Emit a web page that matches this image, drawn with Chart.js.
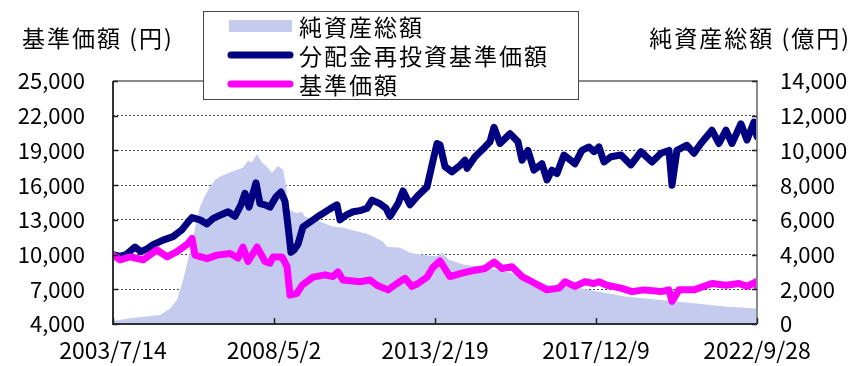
<!DOCTYPE html>
<html lang="ja">
<head>
<meta charset="utf-8">
<title>基準価額・純資産総額の推移</title>
<script src="https://cdn.jsdelivr.net/npm/chart.js@4.4.1/dist/chart.umd.min.js"></script>
<style>
  html, body { margin: 0; padding: 0; background: #fff; }
  #myChart { display: block; }
</style>
</head>
<body>
<canvas id="myChart" width="868" height="366"></canvas>
<script>
const tickLabels = ["2003/7/14", "2008/5/2", "2013/2/19", "2017/12/9", "2022/9/28"];

// days since 2003/7/14
const assetDays = [0, 185, 512, 621, 697, 763, 817, 861, 904, 948, 1002, 1057, 1111, 1166, 1242, 1307, 1362, 1416, 1471, 1514, 1569, 1623, 1689, 1732, 1798, 1852, 1885, 1917, 1994, 2059, 2092, 2255, 2397, 2506, 2767, 2941, 2985, 3127, 3236, 3421, 3530, 3584, 3660, 3835, 4020, 4205, 4379, 4565, 4750, 4924, 5109, 5294, 5600, 5970, 6329, 6689, 7016];
const assetValues = [170, 330, 520, 900, 1380, 2500, 3700, 4650, 5800, 6750, 7400, 7900, 8300, 8500, 8650, 8800, 8900, 9000, 9400, 9300, 9800, 9300, 9000, 8700, 9100, 8900, 8000, 6600, 6400, 6450, 6200, 5900, 5600, 5550, 5200, 4750, 4450, 4400, 4100, 3950, 3900, 4100, 3700, 3400, 3300, 3100, 2900, 2550, 2250, 2150, 2050, 1860, 1570, 1380, 1190, 1000, 900];

const reinvestDays = [0, 76, 142, 240, 305, 370, 436, 545, 654, 752, 817, 861, 948, 1024, 1089, 1166, 1253, 1329, 1394, 1438, 1482, 1514, 1558, 1601, 1656, 1710, 1776, 1830, 1874, 1906, 1939, 1972, 2015, 2070, 2146, 2255, 2364, 2440, 2473, 2538, 2615, 2691, 2767, 2822, 2909, 2974, 3018, 3105, 3159, 3236, 3323, 3421, 3486, 3530, 3562, 3617, 3693, 3780, 3835, 3857, 3944, 4053, 4107, 4151, 4216, 4325, 4412, 4456, 4521, 4586, 4673, 4728, 4782, 4837, 4913, 5033, 5109, 5186, 5240, 5294, 5349, 5425, 5534, 5643, 5752, 5872, 5970, 6057, 6090, 6144, 6253, 6329, 6405, 6525, 6602, 6678, 6743, 6841, 6907, 6983, 7016];
const reinvestValues = [10000, 9850, 10000, 10650, 10250, 10500, 10850, 11250, 11550, 12150, 12800, 13200, 13000, 12650, 13100, 13400, 13700, 13300, 14300, 15300, 14100, 15000, 16200, 14400, 14300, 14100, 15000, 15400, 14600, 12500, 10200, 10400, 10900, 12400, 12800, 13400, 13950, 14300, 13000, 13400, 13700, 13800, 14000, 14700, 14400, 14000, 13300, 14400, 15500, 14300, 15100, 15850, 18100, 19600, 19500, 17600, 17150, 17700, 18150, 17450, 18450, 19300, 19750, 21000, 19600, 20450, 19750, 18150, 19000, 17300, 17850, 16450, 17300, 17000, 18600, 17850, 19000, 19300, 18900, 19300, 18000, 18450, 18600, 17750, 18900, 18000, 18750, 19000, 16000, 19000, 19450, 18750, 19600, 20750, 19600, 20750, 19600, 21300, 19900, 21450, 20200];

const priceDays = [0, 76, 185, 327, 479, 588, 697, 817, 861, 893, 1024, 1133, 1275, 1362, 1416, 1471, 1569, 1656, 1710, 1743, 1841, 1896, 1928, 2004, 2059, 2179, 2310, 2397, 2451, 2506, 2691, 2800, 2876, 2996, 3094, 3181, 3257, 3323, 3421, 3486, 3562, 3671, 3802, 3944, 4053, 4151, 4238, 4347, 4456, 4565, 4728, 4859, 4924, 5033, 5142, 5240, 5294, 5382, 5534, 5654, 5785, 5970, 6057, 6090, 6166, 6329, 6525, 6678, 6820, 6907, 7005, 7016];
const priceValues = [9950, 9550, 9800, 9550, 10400, 9800, 10250, 10950, 11400, 9950, 9650, 9950, 10100, 9700, 10650, 9400, 10650, 9400, 9250, 9800, 9800, 8950, 6500, 6650, 7350, 8050, 8250, 8100, 8500, 7800, 7650, 7800, 7350, 6950, 7500, 7950, 7250, 7500, 8050, 8900, 9450, 8100, 8400, 8650, 8800, 9350, 8800, 8950, 8100, 7650, 6950, 7100, 7650, 7250, 7650, 7500, 7650, 7350, 7100, 6800, 6950, 6800, 6950, 5950, 6950, 6950, 7500, 7350, 7500, 7250, 7650, 7250];

const seriesNames = ["純資産総額", "分配金再投資基準価額", "基準価額"];
const leftTitle = "基準価額 (円)";
const rightTitle = "純資産総額 (億円)";

const jpFont = "'Noto Sans CJK JP', 'Noto Sans', sans-serif";
const dayMs = 24 * 60 * 60 * 1000;

function dayOffset(label) {
  const [y, m, d] = label.split("/").map(Number);
  const [y0, m0, d0] = tickLabels[0].split("/").map(Number);
  return Math.round((Date.UTC(y, m - 1, d) - Date.UTC(y0, m0 - 1, d0)) / dayMs);
}

function toPoints(days, values) {
  return days.map((d, i) => ({ x: d, y: values[i] }));
}

const tickPositions = tickLabels.map(dayOffset);

const overlay = {
  id: "overlay",
  afterDraw(chart) {
    const { ctx, chartArea: a, scales } = chart;
    ctx.save();

    // plot frame
    ctx.lineWidth = 2;
    ctx.strokeStyle = "#8a8a8a";
    ctx.beginPath();
    ctx.moveTo(a.left, a.top);
    ctx.lineTo(a.right, a.top);
    ctx.lineTo(a.right, a.bottom);
    ctx.stroke();
    ctx.strokeStyle = "#333";
    ctx.beginPath();
    ctx.moveTo(a.left, a.top);
    ctx.lineTo(a.left, a.bottom);
    ctx.lineTo(a.right, a.bottom);
    ctx.stroke();

    // inside tick marks
    ctx.lineWidth = 1.5;
    ctx.strokeStyle = "#222";
    ctx.beginPath();
    scales.y.ticks.forEach((t) => {
      const py = Math.round(scales.y.getPixelForValue(t.value)) + 0.5;
      ctx.moveTo(a.left, py);
      ctx.lineTo(a.left + 5, py);
    });
    scales.y1.ticks.forEach((t) => {
      const py = Math.round(scales.y1.getPixelForValue(t.value)) + 0.5;
      ctx.moveTo(a.right - 5, py);
      ctx.lineTo(a.right, py);
    });
    scales.x.ticks.forEach((t) => {
      const px = Math.round(scales.x.getPixelForValue(t.value)) + 0.5;
      ctx.moveTo(px, a.bottom);
      ctx.lineTo(px, a.bottom - 6);
    });
    ctx.stroke();

    // axis titles
    ctx.fillStyle = "#000";
    ctx.font = "23px " + jpFont;
    ctx.letterSpacing = "2px";
    ctx.textBaseline = "middle";
    ctx.textAlign = "left";
    ctx.fillText(leftTitle, 22, 38);
    ctx.textAlign = "right";
    ctx.fillText(rightTitle, 851, 38);

    // legend box
    const box = { x: 203.5, y: 11.5, w: 375, h: 88 };
    ctx.fillStyle = "#fff";
    ctx.fillRect(box.x, box.y, box.w, box.h);
    ctx.lineWidth = 1;
    ctx.strokeStyle = "#444";
    ctx.strokeRect(box.x, box.y, box.w, box.h);

    const rows = [26, 55, 84];
    chart.data.datasets.forEach((ds, i) => {
      const ry = rows[i];
      if (ds.fill) {
        ctx.fillStyle = ds.backgroundColor;
        ctx.fillRect(229, ry - 6, 63, 12);
      } else {
        ctx.strokeStyle = ds.borderColor;
        ctx.lineWidth = 7;
        ctx.lineCap = "round";
        ctx.beginPath();
        ctx.moveTo(231, ry);
        ctx.lineTo(290, ry);
        ctx.stroke();
      }
      ctx.fillStyle = "#000";
      ctx.textAlign = "left";
      ctx.font = "23px " + jpFont;
      ctx.fillText(ds.label, 299, ry + 1);
    });

    ctx.restore();
  },
};

const yTickFont = { family: jpFont, size: 22 };
const xTickFont = { family: jpFont, size: 23 };

const config = {
  type: "line",
  data: {
    datasets: [
      {
        label: seriesNames[0],
        data: toPoints(assetDays, assetValues),
        yAxisID: "y1",
        backgroundColor: "#c4cbee",
        borderWidth: 0,
        pointRadius: 0,
        fill: "origin",
        order: 3,
      },
      {
        label: seriesNames[1],
        data: toPoints(reinvestDays, reinvestValues),
        yAxisID: "y",
        borderColor: "#000080",
        borderWidth: 7,
        borderJoinStyle: "round",
        borderCapStyle: "round",
        pointRadius: 0,
        fill: false,
        order: 2,
      },
      {
        label: seriesNames[2],
        data: toPoints(priceDays, priceValues),
        yAxisID: "y",
        borderColor: "#ff00ff",
        borderWidth: 7,
        borderJoinStyle: "round",
        borderCapStyle: "round",
        pointRadius: 0,
        fill: false,
        order: 1,
      },
    ],
  },
  options: {
    responsive: false,
    animation: false,
    layout: { padding: { top: 81, left: 0, right: 0, bottom: 0 } },
    plugins: {
      legend: { display: false },
      tooltip: { enabled: false },
    },
    scales: {
      x: {
        type: "linear",
        min: tickPositions[0],
        max: tickPositions[tickPositions.length - 1],
        afterBuildTicks: (scale) => {
          scale.ticks = tickPositions.map((v) => ({ value: v }));
        },
        afterFit: (scale) => {
          scale.height = 42;
        },
        grid: { display: false, drawTicks: false },
        border: { display: false },
        ticks: {
          autoSkip: false,
          maxRotation: 0,
          padding: 12,
          color: "#000",
          font: xTickFont,
          callback: (value, index) => tickLabels[index],
        },
      },
      y: {
        position: "left",
        min: 4000,
        max: 25000,
        afterFit: (scale) => {
          scale.width = 113;
        },
        grid: { color: "#505050", lineWidth: 1, drawTicks: false },
        border: { display: false, dash: [2, 2] },
        ticks: {
          stepSize: 3000,
          padding: 28,
          color: "#000",
          font: yTickFont,
          callback: (value) => value.toLocaleString("en-US"),
        },
      },
      y1: {
        position: "right",
        min: 0,
        max: 14000,
        afterFit: (scale) => {
          scale.width = 111;
        },
        grid: { display: false, drawTicks: false },
        border: { display: false },
        ticks: {
          stepSize: 2000,
          padding: 23,
          color: "#000",
          font: yTickFont,
          callback: (value) => value.toLocaleString("en-US"),
        },
      },
    },
  },
  plugins: [overlay],
};

window.chart = new Chart(document.getElementById("myChart"), config);
</script>
</body>
</html>
